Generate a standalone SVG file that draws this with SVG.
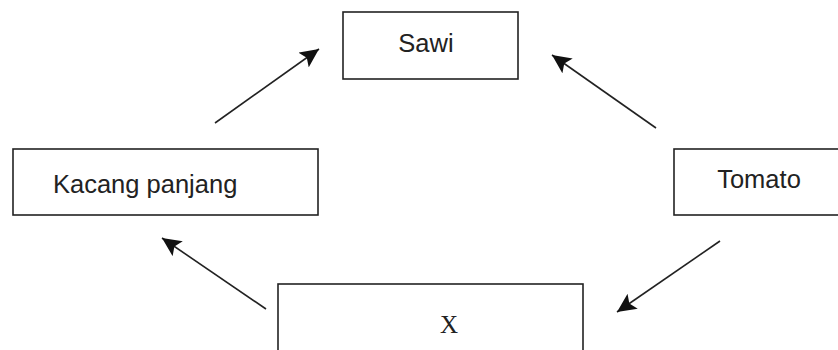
<svg xmlns="http://www.w3.org/2000/svg" width="838" height="350" viewBox="0 0 838 350">
<defs>
<marker id="ah" markerUnits="userSpaceOnUse" markerWidth="22" markerHeight="18" refX="19" refY="9" orient="auto">
<path d="M0,0 L19,9 L0,18 L4,9 Z" fill="#111"/>
</marker>
<style>
.box{fill:#fff;stroke:#222;stroke-width:1.6}
.t{font-family:"Liberation Sans",Arial,sans-serif;font-size:25.5px;fill:#222}
.s{font-family:"Liberation Serif","Times New Roman",serif;font-size:25px;fill:#222}
.c{stroke:#222;stroke-width:1.6;fill:none;marker-end:url(#ah)}
</style>
</defs>
<rect width="838" height="350" fill="#fff"/>
<g id="sawi"><rect class="box" x="343" y="12" width="175" height="67"/><text class="t" x="426" y="52" text-anchor="middle">Sawi</text></g>
<g id="kacang"><rect class="box" x="13" y="149" width="305" height="66"/><text class="t" x="53" y="193">Kacang panjang</text></g>
<g id="tomato"><rect class="box" x="674" y="149" width="170" height="66"/><text class="t" x="759" y="188" text-anchor="middle">Tomato</text></g>
<g id="x"><rect class="box" x="278" y="284" width="305" height="80"/><text class="s" x="449" y="333" text-anchor="middle">X</text></g>
<g id="connectors">
<line class="c" x1="215" y1="123" x2="319" y2="49"/>
<line class="c" x1="656" y1="128" x2="552" y2="55"/>
<line class="c" x1="720" y1="241" x2="617" y2="312"/>
<line class="c" x1="266" y1="309" x2="162" y2="238"/>
</g>
</svg>
